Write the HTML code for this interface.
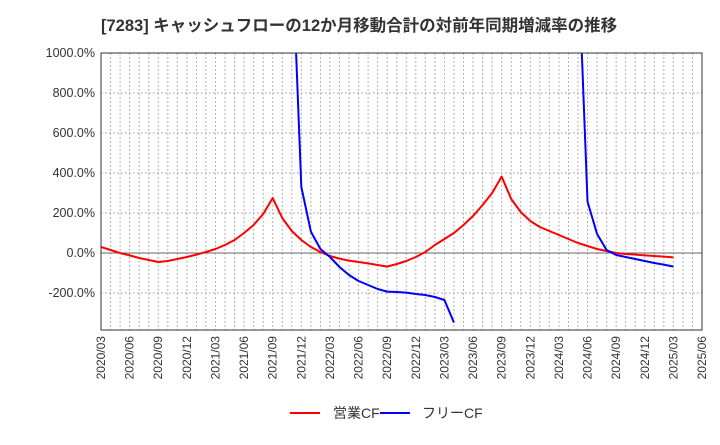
<!DOCTYPE html>
<html><head><meta charset="utf-8"><style>
body{margin:0;background:#fff;font-family:"Liberation Sans","Noto Sans CJK JP",sans-serif;}
</style></head><body>
<svg id="c" width="720" height="440" xmlns="http://www.w3.org/2000/svg">
<text x="101" y="31" font-size="16.5" font-weight="bold" fill="#333" font-family="Liberation Sans, Noto Sans CJK JP, sans-serif">[7283]  キャッシュフローの12か月移動合計の対前年同期増減率の推移</text>
<defs><clipPath id="clip"><rect x="101" y="53" width="601" height="277"/></clipPath></defs>
<g id="grid"></g><g id="series" clip-path="url(#clip)"></g><g id="axes"></g>
<g>
<line x1="290" y1="413" x2="320" y2="413" stroke="#f00" stroke-width="2"/>
<text x="333" y="418" font-size="14" fill="#333">営業CF</text>
<line x1="380" y1="413" x2="410" y2="413" stroke="#00f" stroke-width="2"/>
<text x="422" y="418" font-size="14" fill="#333">フリーCF</text>
</g>
</svg>
<script>
const yTicks=[1000,800,600,400,200,0,-200];
const xTickLabels=["2020/03","2020/06","2020/09","2020/12","2021/03","2021/06","2021/09","2021/12","2022/03","2022/06","2022/09","2022/12","2023/03","2023/06","2023/09","2023/12","2024/03","2024/06","2024/09","2024/12","2025/03","2025/06"];
const operatingCF=[30,15,0,-12,-25,-35,-45,-40,-30,-20,-8,5,20,40,65,100,140,195,275,175,110,65,30,5,-15,-28,-38,-45,-52,-60,-68,-55,-40,-20,5,40,70,100,140,185,240,300,382,270,205,160,130,110,90,70,50,35,20,10,0,-5,-8,-12,-15,-18,-22];
const freeCF=[null,null,null,null,null,null,null,null,null,null,null,null,null,null,null,null,null,null,null,null,1550,330,107,20,-20,-70,-110,-140,-160,-180,-193,-195,-198,-205,-210,-220,-235,-348,null,null,null,null,null,null,null,null,null,null,null,null,1500,257,95,15,-10,-20,-30,-40,-50,-58,-68];
const X0=101,X1=702,Y0=53,Y1=330;
const mStep=(X1-X0)/63;
const xm=i=>X0+i*mStep;
const yv=v=>253-v*0.2;
const NS="http://www.w3.org/2000/svg";
function mk(t,a,p){const e=document.createElementNS(NS,t);for(const k in a)e.setAttribute(k,a[k]);p.appendChild(e);return e;}
const grid=document.getElementById('grid'),axes=document.getElementById('axes'),ser=document.getElementById('series');
for(let i=1;i<63;i++){const l=mk('line',{x1:xm(i),x2:xm(i),y1:Y0,y2:Y1,stroke:'#999','stroke-dasharray':'1.5,2.5','stroke-width':1},grid);

}
yTicks.forEach(v=>{const y=yv(v);
const l=mk('line',{x1:X0,x2:X1,y1:y,y2:y,stroke:v===0?'#666':'#999','stroke-dasharray':v===0?'none':'1.5,2.5','stroke-width':1},grid);


const t=mk('text',{x:X0-6,y:y+4,'text-anchor':'end','font-size':12.5,fill:'#333'},axes);t.textContent=v.toFixed(1)+'%';

});
xTickLabels.forEach((s,i)=>{const x=xm(i*3);
const t=mk('text',{transform:`translate(${x+4},${Y1+6}) rotate(-90)`,'text-anchor':'end','font-size':12,fill:'#333'},axes);t.textContent=s;

});
const fr=mk('rect',{x:X0,y:Y0,width:X1-X0,height:Y1-Y0,fill:'none',stroke:'#333','stroke-width':1},axes);


function draw(data,color,name){let seg=[];const segs=[];
data.forEach((v,i)=>{if(v===null){if(seg.length)segs.push(seg);seg=[];}else seg.push(xm(i)+','+yv(v));});
if(seg.length)segs.push(seg);
segs.forEach(s=>{const p=mk('polyline',{points:s.join(' '),fill:'none',stroke:color,'stroke-width':2,'stroke-linejoin':'round'},ser);

});}
draw(operatingCF,'#f00','operating-cf-line');
draw(freeCF,'#00f','free-cf-line');
</script>
</body></html>
